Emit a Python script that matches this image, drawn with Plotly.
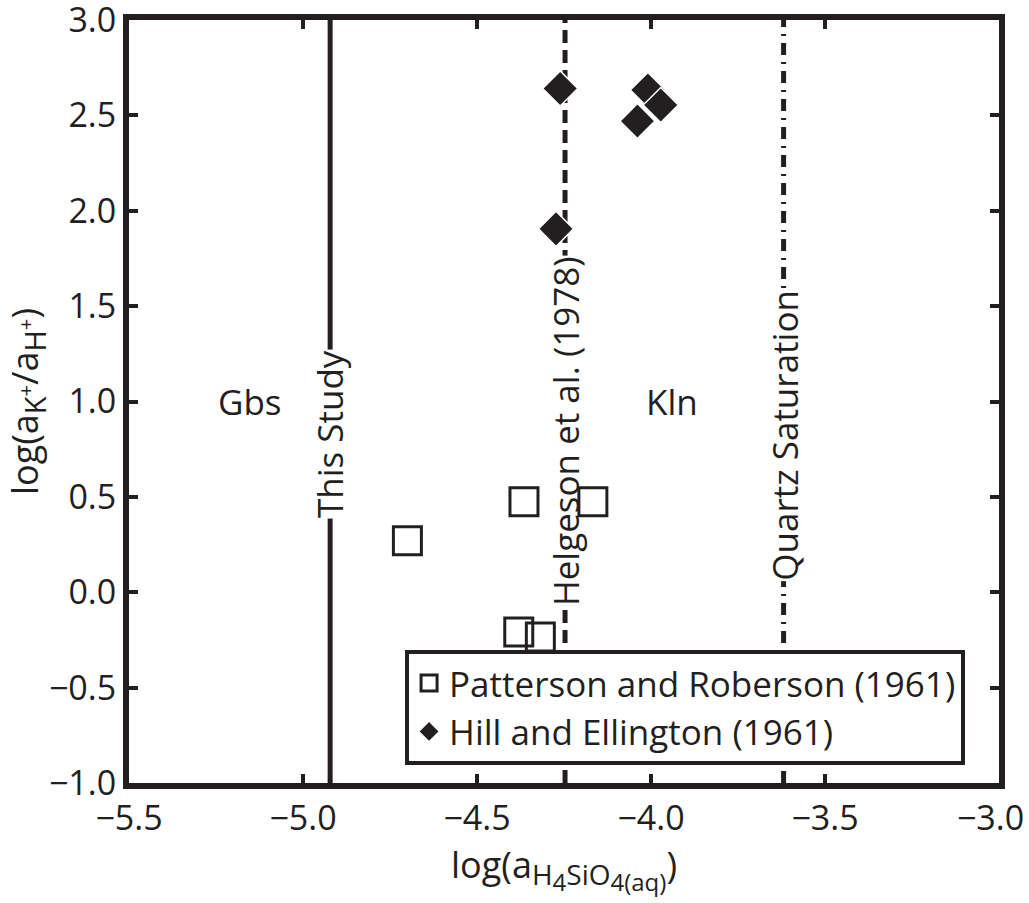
import plotly.graph_objects as go

# Measured solution compositions
pr_x = [-4.70, -4.365, -4.167, -4.38, -4.318]
pr_y = [0.27, 0.475, 0.475, -0.209, -0.234]
he_x = [-4.261, -4.273, -4.009, -3.972, -4.039]
he_y = [2.641, 1.905, 2.633, 2.554, 2.470]

# Gibbsite / kaolinite boundaries and quartz saturation
boundary_x = [-4.922, -4.247, -3.619]
boundary_names = ["This Study", "Helgeson et al. (1978)", "Quartz Saturation"]
boundary_label_y = [0.83, 0.845, 0.824]
boundary_dash = ["solid", "13px,7px", "12px,7px,2px,7px"]
boundary_width = [5, 5, 5]

# Stability field labels
field_names = ["Gbs", "Kln"]
field_x = [-5.152, -3.94]
field_y = [1.0, 1.0]

x_range = [-5.5, -3.0]
y_range = [-1.0, 3.0]
x_ticks = [-5.5, -5.0, -4.5, -4.0, -3.5, -3.0]
# the last label carries a trailing en space so it stays inside the page
x_tick_text = ["\u22125.5", "\u22125.0", "\u22124.5", "\u22124.0", "\u22123.5", "\u22123.0\u2002"]
y_ticks = [-1.0, -0.5, 0.0, 0.5, 1.0, 1.5, 2.0, 2.5, 3.0]

FONT = "Open Sans"
INK = "#231f20"
LABEL_SIZE = 35

fig = go.Figure()

for bx, dash, w in zip(boundary_x, boundary_dash, boundary_width):
    fig.add_trace(go.Scatter(
        x=[bx, bx], y=y_range, mode="lines",
        line=dict(color=INK, width=w, dash=dash),
        showlegend=False, hoverinfo="skip",
    ))

fig.add_trace(go.Scatter(
    x=pr_x, y=pr_y, mode="markers", name="Patterson and Roberson (1961)",
    marker=dict(symbol="square-open", size=28, color=INK, line=dict(color=INK, width=3)),
))
fig.add_trace(go.Scatter(
    x=he_x, y=he_y, mode="markers", name="Hill and Ellington (1961)",
    marker=dict(symbol="diamond", size=27, color=INK, line=dict(color="white", width=1.5)),
))

# Boundary labels: a narrow white strip breaks the line, then the text on top
for bx, name, ly in zip(boundary_x, boundary_names, boundary_label_y):
    fig.add_annotation(
        x=bx, y=ly, text=name, textangle=-90, showarrow=False,
        bgcolor="white", borderpad=0, height=14,
        font=dict(family=FONT, size=LABEL_SIZE, color="rgba(0,0,0,0)"),
    )
    fig.add_annotation(
        x=bx, y=ly, text=name, textangle=-90, showarrow=False,
        font=dict(family=FONT, size=LABEL_SIZE, color=INK),
    )

for name, fx, fy in zip(field_names, field_x, field_y):
    fig.add_annotation(
        x=fx, y=fy, text=name, showarrow=False,
        font=dict(family=FONT, size=LABEL_SIZE, color=INK),
    )

axis_common = dict(
    showgrid=False, zeroline=False, showline=True, linecolor=INK, linewidth=6,
    mirror="ticks", ticks="inside", ticklen=9, tickwidth=4, tickcolor=INK,
    tickfont=dict(family=FONT, size=34, color=INK), ticklabeloverflow="allow",
    automargin=False,
)

x_title = ("log(a<sub><span style='font-size:28px'>H<sub><span style='font-size:24px'>4</span></sub>"
           "SiO<sub><span style='font-size:24px'>4(aq)</span></sub></span></sub>)")
y_title = ("log(a<sub><span style='font-size:29px'>K<sup>+</sup></span></sub>"
           "/a<sub><span style='font-size:29px'>H<sup>+</sup></span></sub>)")

fig.update_xaxes(
    range=x_range, tickvals=x_ticks, ticktext=x_tick_text,
    title=dict(text=x_title, font=dict(family=FONT, size=36, color=INK), standoff=8),
    **axis_common,
)
fig.update_yaxes(
    range=y_range, tickvals=y_ticks, tickformat=".1f",
    title=dict(text=y_title, font=dict(family=FONT, size=36, color=INK), standoff=6),
    **axis_common,
)

fig.update_layout(
    width=1029, height=903,
    margin=dict(l=129, r=30, t=20, b=120),
    plot_bgcolor="white", paper_bgcolor="white",
    font=dict(family=FONT, color=INK),
    legend=dict(
        x=0.961, y=0.024, xanchor="right", yanchor="bottom",
        bgcolor="white", bordercolor=INK, borderwidth=4,
        font=dict(family=FONT, size=35, color=INK),
        tracegroupgap=0, itemwidth=30,
    ),
)

fig.write_html("out.html")
